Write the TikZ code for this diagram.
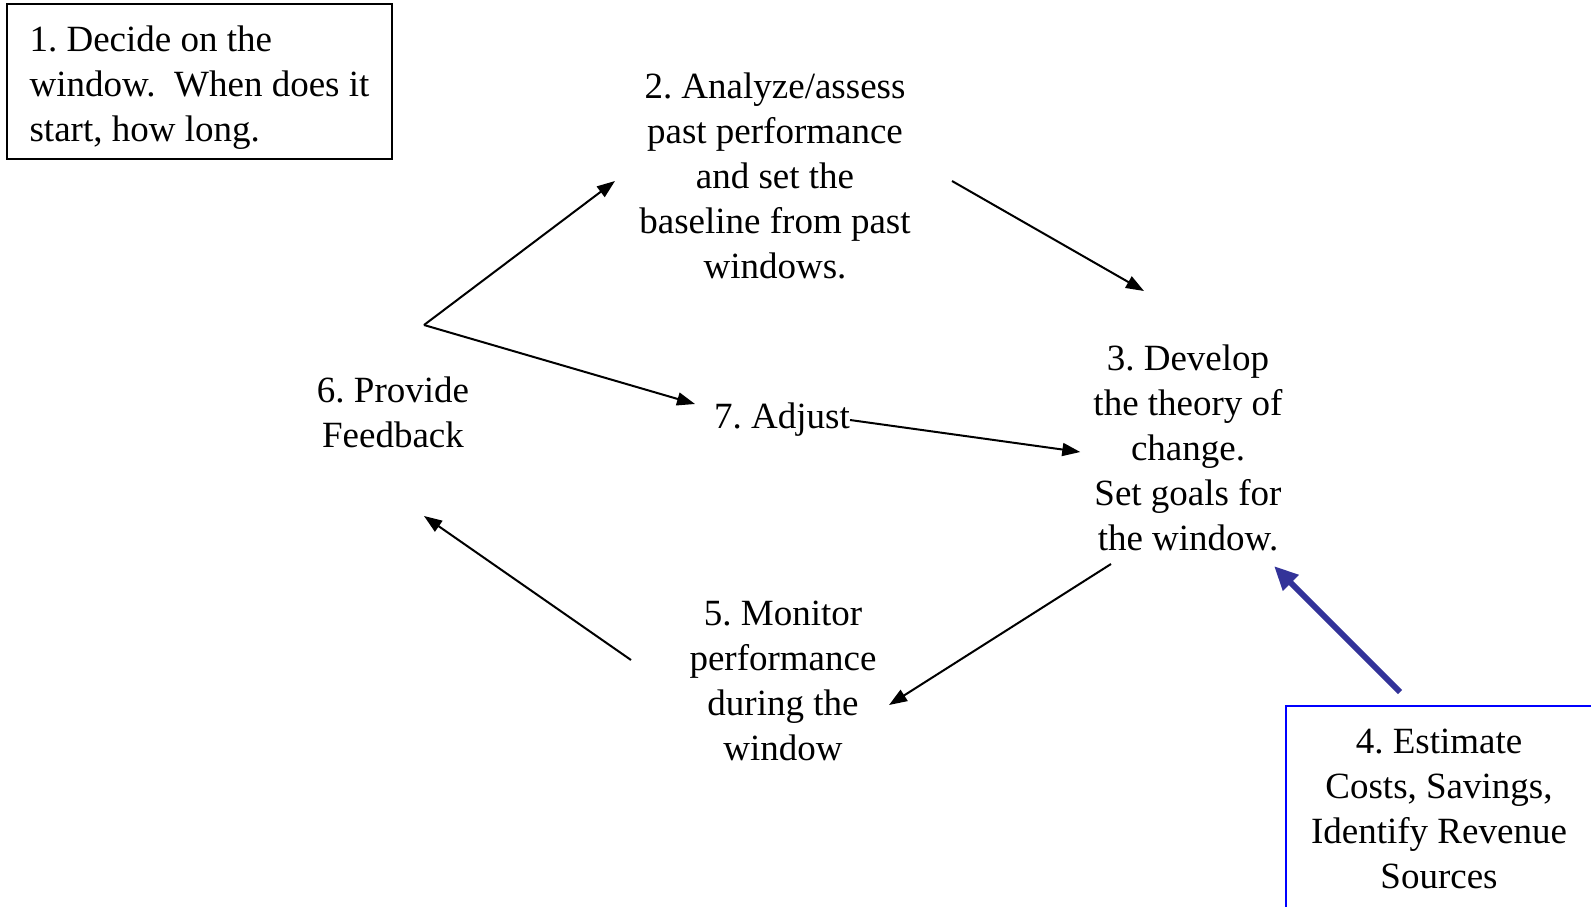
\documentclass[tikz,border=0pt]{standalone}
\usepackage{fontspec}
\setmainfont{Liberation Serif}
\usetikzlibrary{arrows.meta}
\definecolor{arrowblue}{RGB}{51,51,153}
\frenchspacing
\begin{document}
\begin{tikzpicture}[x=1pt,y=-1pt,
		every node/.style={font=\fontsize{37}{45}\selectfont, align=center, inner sep=0pt},
		boxed/.style={draw, line width=2pt},
		arr/.style={-{Triangle[length=18pt,width=13pt]}, line width=2pt},
		bluearr/.style={-{Triangle[length=24pt,width=21pt]}, line width=6pt, draw=arrowblue}]
			\useasboundingbox (0,0) rectangle (1591,906);
			\clip (0,0) rectangle (1591,906);
			
			\node[boxed, align=left, minimum width=385pt, minimum height=155pt] (n1) at (199.5,81.5) {\rule{0pt}{37pt}1. Decide on the\\window.\ \ When does it\\start, how long.};
			\node (n2) at (775,176) {2. Analyze/assess\\past performance\\and set the\\baseline from past\\windows.};
			\node[inner xsep=13pt] (n3) at (1188,448) {3. Develop\\the theory of\\change.\\Set goals for\\the window.};
			\node[boxed, draw=blue, minimum width=306pt, minimum height=206pt] (n4) at (1439,809) {4. Estimate\\Costs, Savings,\\Identify Revenue\\Sources};
			\node (n5) at (783,681) {5. Monitor\\performance\\during the\\window};
			\node (n6) at (393,412) {6. Provide\\Feedback};
			\node (n7) at (782,420) {7. Adjust};
			
			\coordinate (fork) at (424,325);
			\coordinate (n2in) at (615,181);
			\coordinate (n2out) at (952,181);
			\coordinate (n3in) at (1144,291);
			\coordinate (n3out) at (1111,564);
			\coordinate (n5in) at (889,705);
			\coordinate (n5out) at (631,660);
			\coordinate (n6in) at (424,516);
			\coordinate (n4out) at (1400,692);
			\coordinate (n3low) at (1274,566);
			
			\draw[arr] (fork) -- (n2in);
			\draw[arr] (fork) -- (695,404) coordinate (n7in);
			\draw[arr] (n2out) -- (n3in);
			\draw[arr] (n7.east) -- ([yshift=-4pt]n3.west);
			\draw[arr] (n3out) -- (n5in);
			\draw[arr] (n5out) -- (n6in);
			\draw[bluearr] (n4out) -- (n3low);
		\end{tikzpicture}
\end{document}
